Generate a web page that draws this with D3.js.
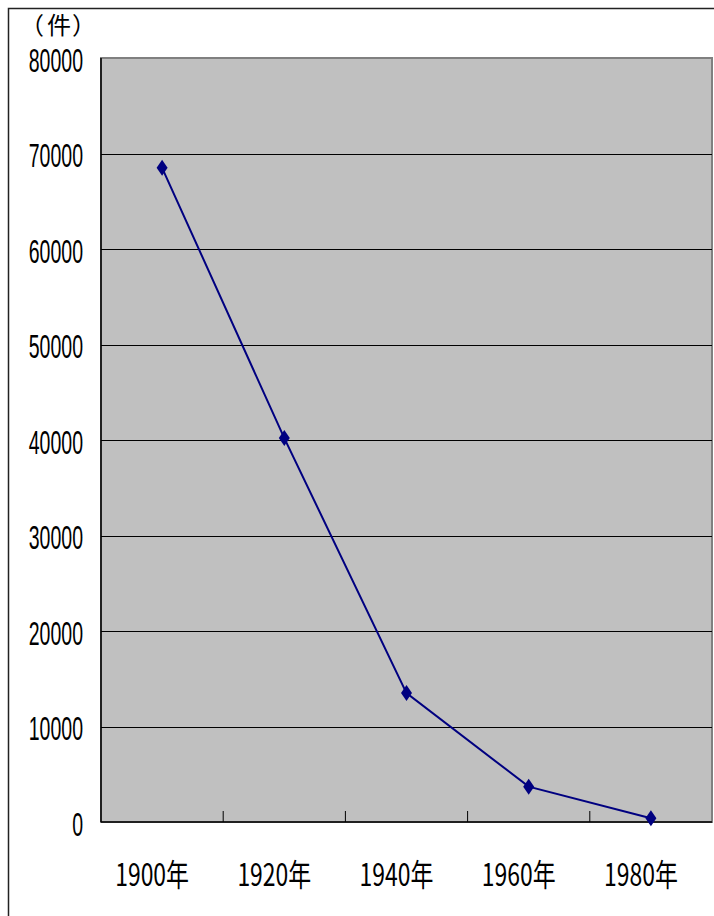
<!DOCTYPE html>
<html>
<head>
<meta charset="utf-8">
<script src="https://cdn.jsdelivr.net/npm/d3@7"></script>
<style>
  body { margin: 0; background: #fff; }
  svg text { font-family: "Noto Sans CJK JP", "Liberation Sans", sans-serif; fill: #000; }
  svg text.num { font-family: "Liberation Sans", sans-serif; }
</style>
</head>
<body>
<svg id="chart"></svg>
<script>
// data
const years = ["1900年", "1920年", "1940年", "1960年", "1980年"];
const counts = [68500, 40200, 13500, 3700, 400];
const yTicks = [0, 10000, 20000, 30000, 40000, 50000, 60000, 70000, 80000];
const unitLabel = ["（", "件", "）"];

const width = 714, height = 916;
const plot = { left: 101, top: 58, right: 712, bottom: 822 };

const svg = d3.select("#chart")
    .attr("width", width)
    .attr("height", height);

// outer frame of the chart object
svg.append("rect")
    .attr("x", 8.5).attr("y", 8.5)
    .attr("width", 900).attr("height", 1000)
    .attr("fill", "none")
    .attr("stroke", "#222")
    .attr("stroke-width", 1.5);

const x = d3.scaleBand()
    .domain(years)
    .range([plot.left, plot.right]);

const y = d3.scaleLinear()
    .domain([0, 80000])
    .range([plot.bottom, plot.top]);

// plot area
svg.append("rect")
    .attr("x", plot.left).attr("y", plot.top)
    .attr("width", plot.right - plot.left)
    .attr("height", plot.bottom - plot.top)
    .attr("fill", "#c0c0c0")
    .attr("stroke", "#808080")
    .attr("stroke-width", 2);

// gridlines
svg.append("g")
    .selectAll("line")
    .data(yTicks.filter(d => d > 0 && d < 80000))
    .enter().append("line")
    .attr("x1", plot.left).attr("x2", plot.right)
    .attr("y1", d => Math.round(y(d)) + 0.5)
    .attr("y2", d => Math.round(y(d)) + 0.5)
    .attr("stroke", "#000")
    .attr("stroke-width", 1);

// axes lines
svg.append("line")
    .attr("x1", plot.left).attr("x2", plot.left)
    .attr("y1", plot.top).attr("y2", plot.bottom)
    .attr("stroke", "#000").attr("stroke-width", 1.5);
svg.append("line")
    .attr("x1", plot.left).attr("x2", plot.right)
    .attr("y1", plot.bottom).attr("y2", plot.bottom)
    .attr("stroke", "#000").attr("stroke-width", 1.5);

// inner ticks between categories
svg.append("g")
    .selectAll("line")
    .data(years.slice(1))
    .enter().append("line")
    .attr("x1", d => x(d)).attr("x2", d => x(d))
    .attr("y1", plot.bottom - 11).attr("y2", plot.bottom)
    .attr("stroke", "#000").attr("stroke-width", 1);

// text helper: narrow text by horizontal scaling
function narrowText(g, px, py, str, anchor, size, sx, cls) {
    g.append("text")
        .attr("class", cls || null)
        .attr("transform", `translate(${px},${py}) scale(${sx},1)`)
        .attr("text-anchor", anchor)
        .attr("font-size", size)
        .text(str);
}

const labels = svg.append("g");
yTicks.forEach(v => {
    narrowText(labels, 83, y(v) + 13.5, String(v), "end", 32.5, 0.6, "num");
});
years.forEach(d => {
    narrowText(labels, x(d) + x.bandwidth() / 2 - 10, 886, d, "middle", 31, 0.74);
});
// unit label, spaced out like the original
const unitX = [32, 59, 84];
unitLabel.forEach((c, i) => {
    narrowText(labels, unitX[i], 34, c, "middle", 24, 1);
});

// line + diamond markers
const line = d3.line()
    .x((d, i) => x(years[i]) + x.bandwidth() / 2)
    .y(d => y(d));

svg.append("path")
    .datum(counts)
    .attr("d", line)
    .attr("fill", "none")
    .attr("stroke", "#000080")
    .attr("stroke-width", 2);

svg.append("g")
    .selectAll("path")
    .data(counts)
    .enter().append("path")
    .attr("transform", (d, i) => `translate(${x(years[i]) + x.bandwidth() / 2},${y(d)})`)
    .attr("d", "M0,-8L5.5,0L0,8L-5.5,0Z")
    .attr("fill", "#000080");
</script>
</body>
</html>
